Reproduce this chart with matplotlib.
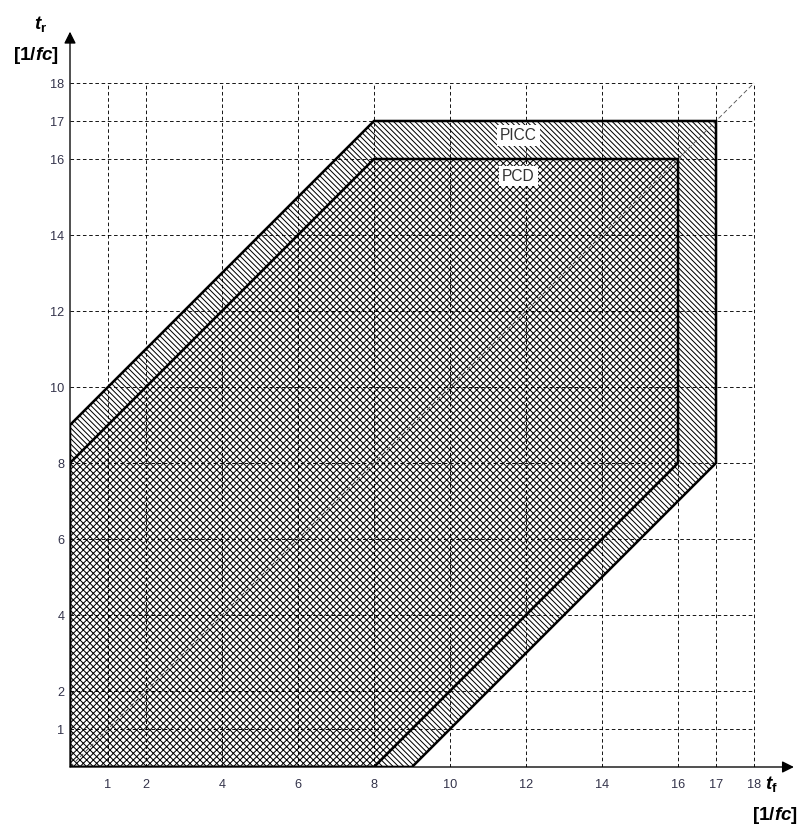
import matplotlib.pyplot as plt
from matplotlib.patches import Polygon

plt.rcParams['font.family'] = ['Liberation Sans', 'DejaVu Sans']
plt.rcParams['hatch.linewidth'] = 0.9
plt.rcParams['mathtext.fontset'] = 'custom'
plt.rcParams['mathtext.it'] = 'Liberation Sans:bold:italic'
plt.rcParams['mathtext.bf'] = 'Liberation Sans:bold'
plt.rcParams['mathtext.rm'] = 'Liberation Sans:bold'

# grid / tick values (units of 1/fc)
grid_vals = [1, 2, 4, 6, 8, 10, 12, 14, 16, 17, 18]
grid_max = 18

# PICC region outline
picc_x = [0, 0, 8, 17, 17, 9]
picc_y = [0, 9, 17, 17, 8, 0]
# PCD region outline
pcd_x = [0, 0, 8, 16, 16, 8]
pcd_y = [0, 8, 16, 16, 8, 0]
# dashed diagonal tf = tr
diag_x = [0, 18]
diag_y = [0, 18]

DPI = 80
fig = plt.figure(figsize=(806 / DPI, 832 / DPI), dpi=DPI)
unit = 38.0
ax = fig.add_axes([70 / 806, 65 / 832, 736 / 806, 767 / 832])
ax.set_xlim(0, 736 / unit)
ax.set_ylim(0, 767 / unit)
for s in ax.spines.values():
    s.set_visible(False)

# hatched regions
picc = Polygon(list(zip(picc_x, picc_y)), closed=True, facecolor='white',
               edgecolor='black', hatch='\\' * 5, lw=0, zorder=1)
pcd = Polygon(list(zip(pcd_x, pcd_y)), closed=True, facecolor='white',
              edgecolor='black', hatch='xxxx', lw=0, zorder=2)
ax.add_patch(picc)
ax.add_patch(pcd)

# dashed grid, only up to 18
ax.vlines(grid_vals, 0, grid_max, colors='black', linestyles=(0, (4, 3)), lw=0.8, zorder=3)
ax.hlines(grid_vals, 0, grid_max, colors='black', linestyles=(0, (4, 3)), lw=0.8, zorder=3)
ax.plot(diag_x, diag_y, color='#555555', ls=(0, (5, 3)), lw=0.8, zorder=3)

# thick outlines
ax.add_patch(Polygon(list(zip(picc_x, picc_y)), closed=True, fill=False,
                     edgecolor='black', lw=2.3, zorder=4))
ax.add_patch(Polygon(list(zip(pcd_x, pcd_y)), closed=True, fill=False,
                     edgecolor='black', lw=2.3, zorder=4))

# region labels
box = dict(facecolor='white', edgecolor='none', pad=2.5)
ax.text(11.8, 16.62, 'PICC', ha='center', va='center', fontsize=14,
        color='#333333', bbox=box, zorder=5)
ax.text(11.8, 15.55, 'PCD', ha='center', va='center', fontsize=14,
        color='#333333', bbox=box, zorder=5)

# axis arrows
arrow = dict(arrowstyle='-|>', color='black', lw=1.2, mutation_scale=22, shrinkA=0, shrinkB=0)
ax.annotate('', xy=(19.05, 0), xytext=(0, 0), arrowprops=arrow, annotation_clip=False, zorder=6)
ax.annotate('', xy=(0, 19.35), xytext=(0, 0), arrowprops=arrow, annotation_clip=False, zorder=6)

# ticks
ax.set_xticks(grid_vals)
ax.set_yticks(grid_vals)
ax.tick_params(axis='x', length=0, pad=11, labelsize=11.5, labelcolor='#33334a')
ax.tick_params(axis='y', length=0, pad=5, labelsize=11.5, labelcolor='#33334a')

# axis labels
ax.text(-0.78, 19.55, r'$\mathit{t}_{\mathbf{r}}$', fontsize=17, ha='center', va='center', clip_on=False)
ax.text(-0.9, 18.72, r'$\mathbf{[1/}\mathit{fc}\mathbf{]}$', fontsize=17, ha='center', va='center', clip_on=False)
ax.text(18.45, -0.45, r'$\mathit{t}_{\mathbf{f}}$', fontsize=17, ha='center', va='center', clip_on=False)
ax.text(18.55, -1.27, r'$\mathbf{[1/}\mathit{fc}\mathbf{]}$', fontsize=17, ha='center', va='center', clip_on=False)

fig.savefig('out.png', dpi=DPI)
